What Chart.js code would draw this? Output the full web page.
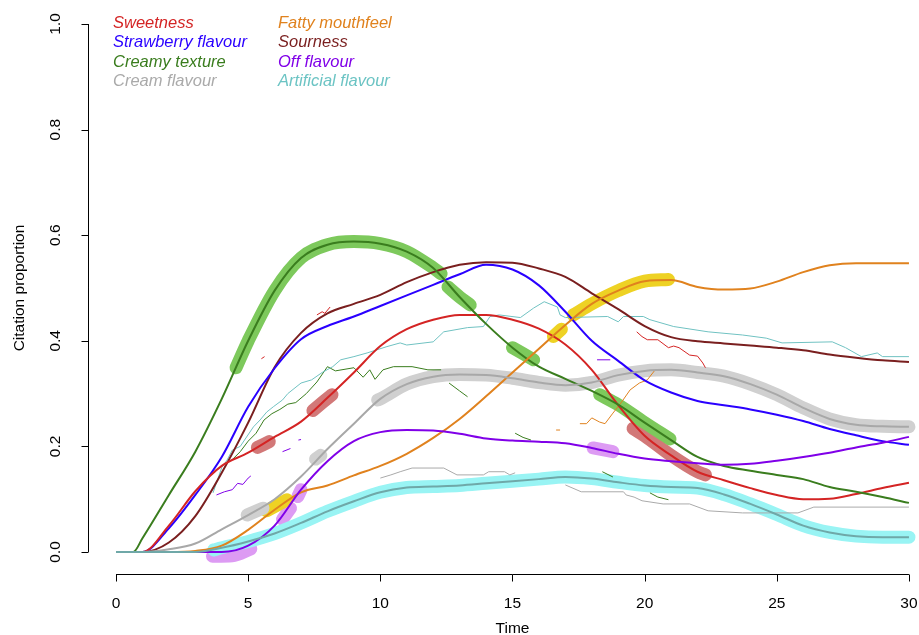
<!DOCTYPE html>
<html lang="en">
<head>
    <meta charset="UTF-8">
    <title>Citation proportion over time</title>
    <script src="https://cdn.jsdelivr.net/npm/chart.js"></script>
    <style>
        body {
            margin: 0;
            background: #fff;
        }
        .chart-container {
            position: relative;
            width: 919px;
            height: 635px;
        }
    </style>
</head>
<body>
    <div class="chart-container">
        <canvas id="tdsChart"></canvas>
    </div>

    <script>
        // Axis ticks
        var xTicks = [0, 5, 10, 15, 20, 25, 30];
        var yTicks = [0, 0.2, 0.4, 0.6, 0.8, 1.0];

        // Smoothed curves, read at each second
        var time = [0,1,2,3,4,5,6,7,8,9,10,11,12,13,14,15,16,17,18,19,20,21,22,23,24,25,26,27,28,29,30];
        var sweetness  = [0,0,0.05,0.115,0.163,0.188,0.218,0.247,0.292,0.34,0.39,0.422,0.44,0.449,0.449,0.44,0.423,0.393,0.345,0.278,0.22,0.183,0.152,0.136,0.121,0.108,0.1,0.101,0.11,0.121,0.131];
        var strawberry = [0,0,0.045,0.108,0.18,0.275,0.348,0.403,0.428,0.446,0.466,0.486,0.506,0.526,0.544,0.535,0.505,0.455,0.4,0.362,0.325,0.302,0.286,0.278,0.27,0.26,0.248,0.233,0.221,0.21,0.203];
        // creamy texture leaves zero a little earlier, at 0.65 s
        var creamyTime = [0,0.65,1,2,3,4,5,6,7,8,9,10,11,12,13,14,15,16,17,18,19,20,21,22,23,24,25,26,27,28,29,30];
        var creamy     = [0,0,0.026,0.108,0.19,0.29,0.4,0.495,0.557,0.582,0.588,0.584,0.569,0.538,0.483,0.432,0.387,0.351,0.328,0.305,0.279,0.245,0.212,0.18,0.163,0.154,0.146,0.138,0.123,0.114,0.104,0.093];
        var cream      = [0,0,0.005,0.016,0.043,0.07,0.1,0.143,0.195,0.243,0.29,0.318,0.332,0.336,0.335,0.329,0.321,0.316,0.321,0.335,0.343,0.345,0.34,0.333,0.318,0.298,0.273,0.252,0.241,0.238,0.237];
        var fatty      = [0,0,0,0.002,0.012,0.042,0.08,0.113,0.126,0.145,0.163,0.186,0.216,0.252,0.295,0.34,0.385,0.43,0.47,0.495,0.513,0.515,0.502,0.497,0.499,0.512,0.53,0.543,0.547,0.547,0.547];
        var sourness   = [0,0,0.018,0.068,0.15,0.245,0.35,0.415,0.452,0.47,0.487,0.511,0.53,0.544,0.549,0.548,0.537,0.521,0.49,0.46,0.428,0.407,0.399,0.395,0.391,0.387,0.382,0.374,0.368,0.363,0.36];
        var offFlavour = [0,0,0,0,0,0.012,0.05,0.118,0.172,0.21,0.227,0.231,0.23,0.224,0.215,0.211,0.209,0.206,0.197,0.186,0.177,0.172,0.168,0.165,0.167,0.173,0.18,0.188,0.198,0.207,0.218];
        var artificial = [0,0,0,0,0.008,0.02,0.035,0.055,0.077,0.096,0.113,0.122,0.124,0.126,0.13,0.134,0.138,0.142,0.139,0.132,0.126,0.123,0.121,0.109,0.091,0.071,0.05,0.037,0.03,0.028,0.028];

        // Highlighted (significant) stretches: [time, value] pairs, one list per stretch
        var sweetnessBands = [
            [[5.35,0.198],[5.8,0.209]],
            [[7.45,0.268],[8.17,0.298]],
            [[19.56,0.234],[20,0.22],[21,0.183],[22,0.152],[22.3,0.146]]
        ];
        var creamyBands = [
            [[4.54,0.349],[5,0.4],[6,0.495],[7,0.557],[8,0.582],[9,0.588],[10,0.584],[11,0.569],[12,0.538],[12.3,0.527]],
            [[12.56,0.502],[13,0.483],[13.4,0.468]],
            [[15.0,0.387],[15.8,0.364]],
            [[18.3,0.298],[19,0.279],[20,0.245],[20.96,0.214]]
        ];
        var creamBands = [
            [[4.96,0.07],[5.56,0.083]],
            [[7.55,0.176],[7.75,0.183]],
            [[9.9,0.288],[10,0.29],[11,0.318],[12,0.332],[13,0.336],[14,0.335],[15,0.329],[16,0.321],[17,0.316],[18,0.321],[19,0.335],[20,0.343],[21,0.345],[22,0.34],[23,0.333],[24,0.318],[25,0.298],[26,0.273],[27,0.252],[28,0.241],[29,0.238],[30,0.237]]
        ];
        var fattyBands = [
            [[5.7,0.078],[6.47,0.099]],
            [[16.55,0.408],[16.85,0.422]],
            [[17.3,0.449],[18,0.47],[19,0.495],[20,0.513],[20.9,0.516]]
        ];
        var offBands = [
            [[3.65,-0.008],[4.4,-0.007],[5.1,0.006]],
            [[6.3,0.062],[6.6,0.083]],
            [[6.88,0.105],[7.0,0.118]],
            [[18.05,0.197],[18.8,0.19]]
        ];
        var artificialBands = [
            [[3.7,0.004],[4,0.008],[5,0.02],[6,0.035],[7,0.055],[8,0.077],[9,0.096],[10,0.113],[11,0.122],[12,0.124],[13,0.126],[14,0.13],[15,0.134],[16,0.138],[17,0.142],[18,0.139],[19,0.132],[20,0.126],[21,0.123],[22,0.121],[23,0.109],[24,0.091],[25,0.071],[26,0.05],[27,0.037],[28,0.03],[29,0.028],[30,0.028]]
        ];

        // Raw citation traces (fragments), null breaks a trace
        var rawSweetness = [[5.5,0.366],[5.62,0.37],null,[7.6,0.449],[7.8,0.455],[7.9,0.452],[8.1,0.464],null,
            [19.7,0.417],[19.9,0.408],[20.1,0.402],[20.5,0.402],[20.9,0.387],[21.1,0.39],[21.3,0.387],[21.7,0.373],[22.0,0.371],[22.2,0.358],[22.3,0.349]];
        var rawCreamy = [[4.4,0.175],[4.7,0.19],[5.0,0.21],[5.3,0.225],[5.6,0.25],[5.9,0.262],[6.2,0.27],[6.5,0.28],[6.8,0.283],[7.2,0.3],[7.6,0.322],[8.0,0.351],[8.3,0.343],[9.0,0.349],[9.35,0.331],[9.6,0.345],[9.8,0.327],[10.1,0.345],[10.5,0.351],[11.2,0.351],[11.8,0.345],[12.3,0.345],null,
            [12.6,0.32],[13.0,0.305],[13.3,0.294],null,[15.1,0.225],[15.4,0.217],[15.7,0.212],null,[18.4,0.152],[18.8,0.142],null,[20.2,0.112],[20.5,0.104],[20.9,0.099]];
        var rawCream = [[10,0.14],[10.4,0.146],[10.75,0.152],[11.2,0.159],[12.4,0.159],[12.9,0.146],[13.9,0.146],[14.1,0.152],[14.7,0.152],[14.9,0.146],[15.1,0.15],null,
            [17.0,0.127],[17.6,0.114],[19.2,0.114],[19.3,0.108],[19.6,0.104],[19.9,0.097],[20.7,0.091],[21.7,0.091],[22.4,0.078],[23.7,0.074],[25.8,0.074],[26.4,0.085],[30,0.085]];
        var rawFatty = [[16.65,0.231],[16.8,0.231],null,[17.55,0.243],[17.8,0.243],[18.0,0.254],[18.3,0.246],[18.5,0.243],[18.8,0.263],[19.1,0.282],[19.45,0.307],[19.8,0.32],[20.1,0.326],[20.4,0.345]];
        var rawOff = [[3.8,0.108],[4.1,0.114],[4.4,0.118],[4.6,0.13],[4.8,0.128],[5.0,0.14],[5.1,0.144],null,[6.3,0.19],[6.6,0.196],null,[6.9,0.212],[7.0,0.213],null,[18.2,0.364],[18.7,0.364]];
        var rawArtificial = [[3.67,0.112],[4.0,0.16],[4.2,0.174],[4.4,0.193],[4.7,0.2],[5.2,0.237],[5.45,0.25],[5.7,0.265],[5.95,0.275],[6.3,0.288],[6.5,0.3],[7.0,0.32],[7.4,0.326],[7.8,0.34],[8.2,0.351],[8.5,0.364],[9.0,0.37],[9.5,0.377],[10.25,0.389],[10.75,0.396],[11.0,0.392],[12.0,0.398],[12.4,0.417],[13.3,0.425],[13.9,0.427],[14.15,0.446],[14.5,0.449],[15.3,0.444],[15.8,0.462],[16.2,0.474],[16.7,0.464],[16.8,0.449],[17.0,0.444],[18.6,0.446],[19.0,0.436],[19.2,0.446],[19.95,0.446],[20.2,0.44],[21.1,0.427],[22.4,0.417],[23.7,0.411],[24.6,0.405],[25.2,0.396],[27.1,0.398],[27.6,0.387],[28.2,0.37],[28.8,0.377],[29.0,0.37],[30,0.37]];

        var legendLabels = ['Sweetness', 'Strawberry flavour', 'Creamy texture', 'Cream flavour',
                            'Fatty mouthfeel', 'Sourness', 'Off flavour', 'Artificial flavour'];
        var legendColors = ['#D42424', '#2A00FF', '#3A7D1E', '#AAAAAA',
                            '#E0821E', '#7A1F1F', '#8000E8', '#6CC4C4'];

        function toPoints(xs, ys) {
            return xs.map(function (t, i) { return {x: t, y: ys[i]}; });
        }
        function pairs(list) {
            return list.map(function (p) { return p === null ? {x: null, y: null} : {x: p[0], y: p[1]}; });
        }

        var datasets = [];

        function addBands(bands, color) {
            bands.forEach(function (b) {
                datasets.push({
                    data: pairs(b),
                    borderColor: color,
                    borderWidth: 13,
                    borderCapStyle: 'round',
                    borderJoinStyle: 'round',
                    cubicInterpolationMode: 'monotone',
                    pointRadius: 0,
                    order: 3
                });
            });
        }
        addBands(creamBands, '#D0D0D0');
        addBands(artificialBands, '#99F4F4');
        addBands(creamyBands, '#7DC95C');
        addBands(fattyBands, '#EED224');
        addBands(offBands, '#DD9BF3');
        addBands(sweetnessBands, '#D27878');

        function addRaw(list, color) {
            datasets.push({
                data: pairs(list),
                borderColor: color,
                borderWidth: 1,
                spanGaps: false,
                tension: 0,
                pointRadius: 0,
                order: 2
            });
        }
        addRaw(rawArtificial, '#70C2C2');
        addRaw(rawCreamy, '#3A7D1E');
        addRaw(rawCream, '#AAAAAA');
        addRaw(rawFatty, '#E0821E');
        addRaw(rawSweetness, '#D42424');
        addRaw(rawOff, '#8000E8');

        function addCurve(xs, ys, color) {
            datasets.push({
                data: toPoints(xs, ys),
                borderColor: color,
                borderWidth: 2,
                cubicInterpolationMode: 'monotone',
                pointRadius: 0,
                order: 1
            });
        }
        addCurve(time, artificial, '#6FA8A8');
        addCurve(time, cream, '#A8A8A8');
        addCurve(time, offFlavour, '#8000E8');
        addCurve(time, fatty, '#E0821E');
        addCurve(creamyTime, creamy, '#3A7D1E');
        addCurve(time, sweetness, '#D42424');
        addCurve(time, strawberry, '#2A00FF');
        addCurve(time, sourness, '#7A1F1F');

        // base-R style axes, titles and legend
        var rStyle = {
            id: 'rStyle',
            afterDraw: function (chart) {
                var ctx = chart.ctx, x = chart.scales.x, y = chart.scales.y, area = chart.chartArea;
                ctx.save();
                ctx.strokeStyle = '#000';
                ctx.fillStyle = '#000';
                ctx.lineWidth = 1;
                ctx.font = '15.5px "Liberation Sans", Arial, sans-serif';

                var yb = Math.round(area.bottom) + 0.5;
                ctx.beginPath();
                ctx.moveTo(x.getPixelForValue(xTicks[0]), yb);
                ctx.lineTo(x.getPixelForValue(xTicks[xTicks.length - 1]), yb);
                xTicks.forEach(function (v) {
                    var px = Math.round(x.getPixelForValue(v)) + 0.5;
                    ctx.moveTo(px, yb);
                    ctx.lineTo(px, yb + 7);
                });
                var xl = Math.round(area.left) + 0.5;
                ctx.moveTo(xl, y.getPixelForValue(yTicks[0]));
                ctx.lineTo(xl, y.getPixelForValue(yTicks[yTicks.length - 1]));
                yTicks.forEach(function (v) {
                    var py = Math.round(y.getPixelForValue(v)) + 0.5;
                    ctx.moveTo(xl, py);
                    ctx.lineTo(xl - 7, py);
                });
                ctx.stroke();

                ctx.textAlign = 'center';
                ctx.textBaseline = 'middle';
                xTicks.forEach(function (v) {
                    ctx.fillText(String(v), x.getPixelForValue(v), yb + 29);
                });
                yTicks.forEach(function (v) {
                    ctx.save();
                    ctx.translate(xl - 33, y.getPixelForValue(v));
                    ctx.rotate(-Math.PI / 2);
                    ctx.fillText(v.toFixed(1), 0, 0);
                    ctx.restore();
                });
                ctx.fillText('Time', (x.getPixelForValue(0) + x.getPixelForValue(30)) / 2, yb + 54);
                ctx.save();
                ctx.translate(20, (y.getPixelForValue(0) + y.getPixelForValue(1)) / 2);
                ctx.rotate(-Math.PI / 2);
                ctx.fillText('Citation proportion', 0, 0);
                ctx.restore();

                ctx.font = 'italic 16.5px "Liberation Sans", Arial, sans-serif';
                ctx.textAlign = 'left';
                legendLabels.forEach(function (lab, i) {
                    var col = Math.floor(i / 4), row = i % 4;
                    ctx.fillStyle = legendColors[i];
                    ctx.fillText(lab, 113 + col * 165, 23 + row * 19.5);
                });
                ctx.restore();
            }
        };

        var ctx = document.getElementById('tdsChart').getContext('2d');
        var tdsChart = new Chart(ctx, {
            type: 'line',
            data: { datasets: datasets },
            options: {
                responsive: true,
                maintainAspectRatio: false,
                animation: false,
                layout: { padding: { left: 88, right: 0, top: 3, bottom: 61 } },
                plugins: { legend: { display: false }, tooltip: { enabled: false } },
                scales: {
                    x: { type: 'linear', min: -1.06, max: 30.38, display: false },
                    y: { type: 'linear', min: -0.0417, max: 1.0398, display: false }
                }
            },
            plugins: [rStyle]
        });
    </script>
</body>
</html>
